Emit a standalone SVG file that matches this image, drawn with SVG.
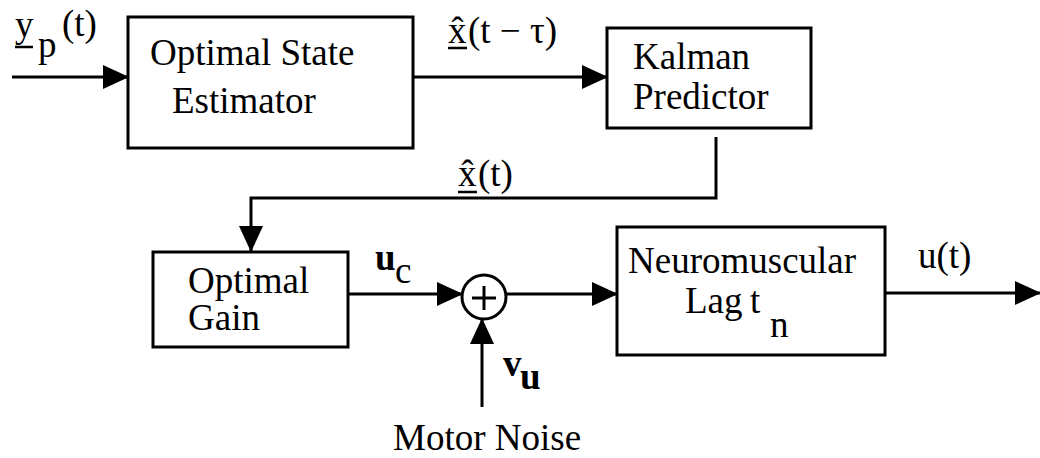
<svg xmlns="http://www.w3.org/2000/svg" width="1040" height="458" viewBox="0 0 1040 458">
<style>
text{font-family:"Liberation Serif","DejaVu Serif","Noto Serif",serif;font-size:37px;fill:#000}
.box{fill:#fff;stroke:#000;stroke-width:3}
.ln{fill:none;stroke:#000;stroke-width:3}
.ul{stroke:#000;stroke-width:2.5}
</style>
<defs>
<marker id="ah" markerWidth="26" markerHeight="24" refX="25" refY="12" orient="auto" markerUnits="userSpaceOnUse">
<path d="M0,0 L26,12 L0,24 Z" fill="#000"/>
</marker>
</defs>
<rect width="1040" height="458" fill="#fff"/>
<g id="connectors">
<line class="ln" x1="12" y1="77" x2="128" y2="77" marker-end="url(#ah)"/>
<line class="ln" x1="413" y1="77" x2="607" y2="77" marker-end="url(#ah)"/>
<polyline class="ln" points="716,137 716,198 251,198 251,251" marker-end="url(#ah)"/>
<line class="ln" x1="348" y1="294" x2="462" y2="294" marker-end="url(#ah)"/>
<line class="ln" x1="506" y1="294" x2="617" y2="294" marker-end="url(#ah)"/>
<line class="ln" x1="482" y1="407" x2="482" y2="319" marker-end="url(#ah)"/>
<line class="ln" x1="885" y1="293" x2="1040" y2="293" marker-end="url(#ah)"/>
</g>
<g id="label-yp">
<text x="15" y="37">y</text>
<line class="ul" x1="15" y1="47" x2="33" y2="47"/>
<text x="38" y="57" font-size="26">p</text>
<text x="62" y="36">(t)</text>
</g>
<g id="label-xhat-tau">
<text x="448" y="43">x̂</text>
<line class="ul" x1="448" y1="48" x2="467" y2="48"/>
<text x="468" y="43">(t − τ)</text>
</g>
<g id="label-xhat">
<text x="458" y="186">x̂</text>
<line class="ul" x1="458" y1="192" x2="477" y2="192"/>
<text x="478" y="186">(t)</text>
</g>
<g id="label-uc">
<text x="375" y="270" font-size="32" font-weight="bold">u</text>
<text x="395" y="283" font-size="30">c</text>
</g>
<g id="label-vu">
<text x="503" y="376" font-size="30" font-weight="bold">v</text>
<text x="520" y="389" font-size="24" font-weight="bold">u</text>
</g>
<g id="label-ut">
<text x="918" y="268">u(t)</text>
</g>
<g id="estimator">
<rect class="box" x="128" y="17" width="285" height="131"/>
<text x="150" y="65">Optimal State</text>
<text x="172" y="113">Estimator</text>
</g>
<g id="predictor">
<rect class="box" x="607" y="28" width="204" height="100"/>
<text x="633" y="69" font-size="35">Kalman</text>
<text x="633" y="109" font-size="35">Predictor</text>
</g>
<g id="gain">
<rect class="box" x="153" y="252" width="195" height="95"/>
<text x="188" y="293">Optimal</text>
<text x="188" y="330">Gain</text>
</g>
<g id="sum">
<circle class="box" cx="484" cy="297" r="22"/>
<line class="ln" x1="472" y1="298" x2="496" y2="298"/>
<line class="ln" x1="484" y1="286" x2="484" y2="310"/>
</g>
<g id="neuromuscular">
<rect class="box" x="617" y="227" width="268" height="128"/>
<text x="628" y="273">Neuromuscular</text>
<text x="685" y="313">Lag</text>
<text x="750" y="313">t</text>
<text x="770" y="337">n</text>
</g>
<g id="motor-noise">
<text x="393" y="450">Motor Noise</text>
</g>
</svg>
